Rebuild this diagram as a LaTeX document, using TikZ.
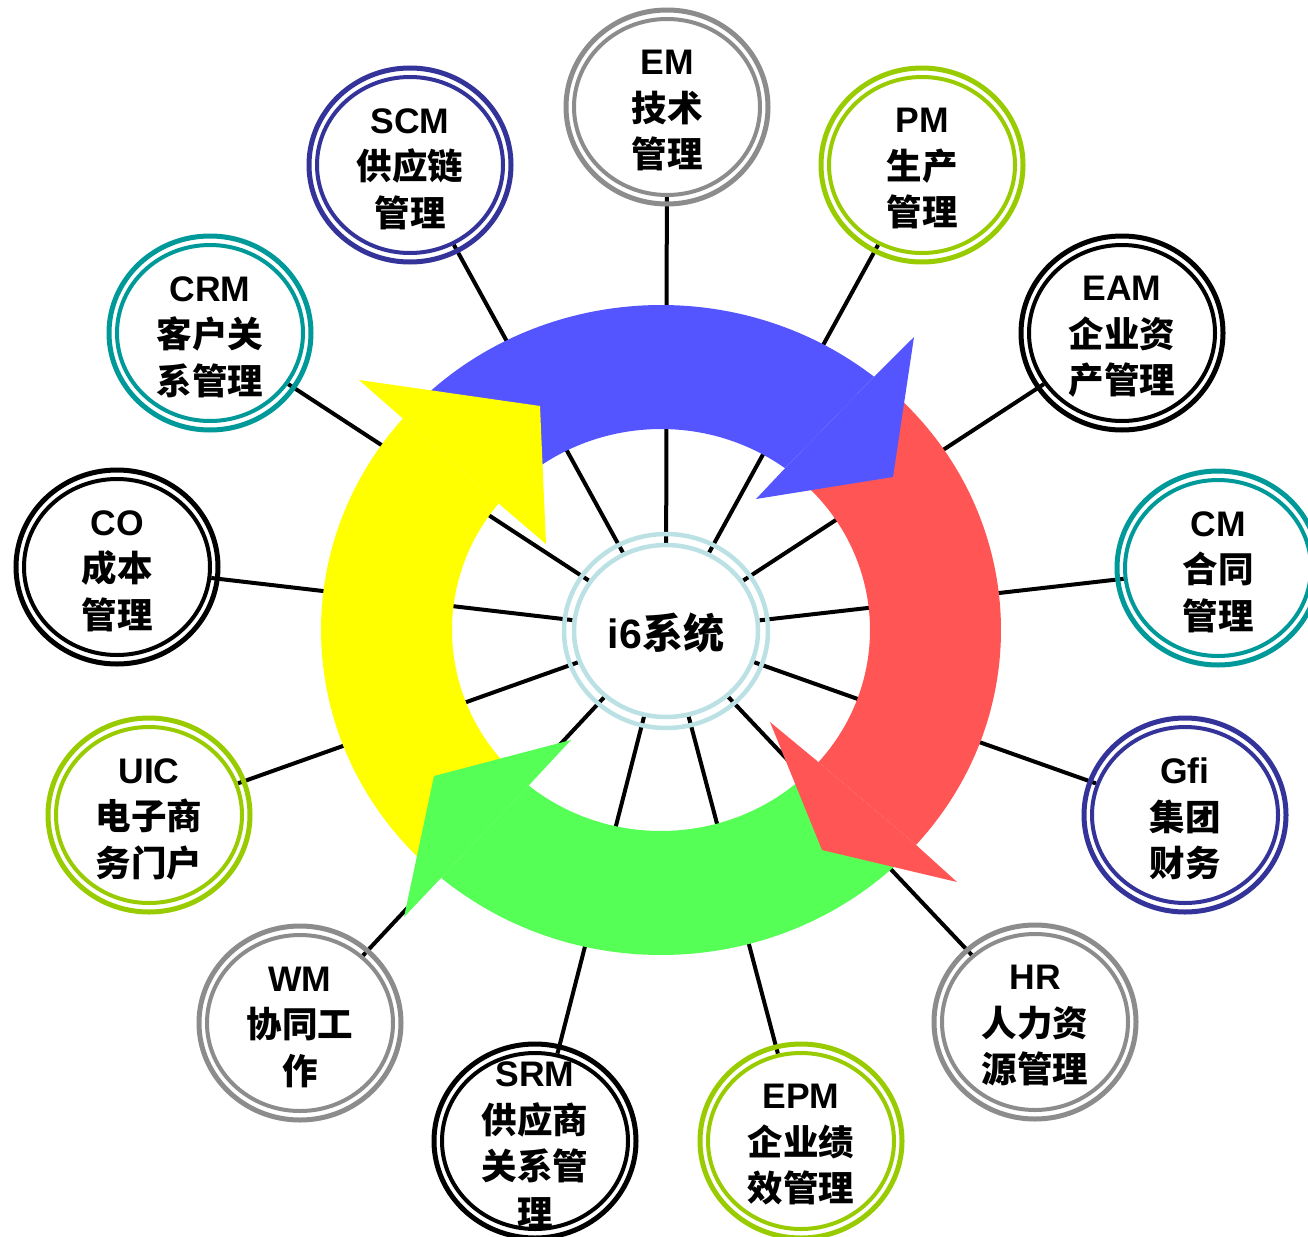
\documentclass[tikz,border=0pt]{standalone}
\usepackage{fontspec}
\setmainfont{Liberation Sans}
\newfontfamily\cjk{Noto Sans CJK SC}
\usetikzlibrary{shapes.geometric,calc}
\pgfdeclarelayer{spokelayer}
\pgfdeclarelayer{arrowlayer}
\pgfsetlayers{spokelayer,arrowlayer,main}
\definecolor{ringgray}{HTML}{8C8C8C}
\definecolor{ringlime}{HTML}{99CC00}
\definecolor{ringteal}{HTML}{009999}
\definecolor{ringnavy}{HTML}{333399}
\definecolor{ringblack}{HTML}{000000}
\definecolor{cring}{HTML}{BCE1E5}
\definecolor{arrblue}{HTML}{5555FF}
\definecolor{arrred}{HTML}{FF5555}
\definecolor{arrgreen}{HTML}{55FF55}
\definecolor{arryellow}{HTML}{FFFF00}
\newcommand\zh[1]{{\cjk #1}}
\newcommand\modnode[4]{%
  \node[inring, draw=#3] (#1) at (#2) {};
  \draw[outring, draw=#3] (#1.center) ellipse[x radius=101, y radius=97];
  \node[txt] (t#1) at ($(#1.center)+(0,4)$) {#4};
}
\begin{document}
\begin{tikzpicture}[x=1pt, y=-1pt,
  inring/.style={ellipse, line width=4pt, fill=white, minimum width=186pt, minimum height=176pt, inner sep=0pt},
  outring/.style={line width=5pt},
  txt/.style={align=center, inner sep=0pt, font=\fontsize{35.5}{46.5}\selectfont\bfseries},
  spoke/.style={line width=4pt, draw=black},
  outr/.style={x radius=340, y radius=325},
  inr/.style={x radius=209, y radius=201}]
\useasboundingbox (0,0) rectangle (1308,1236);
\begin{pgfonlayer}{spokelayer}
  \fill[white] (0,0) rectangle (1308,1236);
\end{pgfonlayer}
\coordinate (A) at (661,630);

% centre
\node[ellipse, draw=cring, line width=4.5pt, fill=white, minimum width=184pt, minimum height=172pt, inner sep=0pt] (ctr) at (666,631) {};
\draw[cring, line width=4.5pt] (ctr.center) ellipse[x radius=102, y radius=97];
\node[font=\fontsize{41}{48}\selectfont\bfseries, inner sep=0pt] (tctr) at ($(ctr.center)+(0,2)$) {i6\zh{系统}};

% modules
\modnode{EM}{667,107}{ringgray}{EM\\\zh{技术}\\\zh{管理}}
\modnode{PM}{922,165}{ringlime}{PM\\\zh{生产}\\\zh{管理}}
\modnode{EAM}{1122,333}{ringblack}{EAM\\\zh{企业资}\\\zh{产管理}}
\modnode{CM}{1218,568}{ringteal}{CM\\\zh{合同}\\\zh{管理}}
\modnode{Gfi}{1185,815}{ringnavy}{Gfi\\\zh{集团}\\\zh{财务}}
\modnode{HR}{1035,1022}{ringgray}{HR\\\zh{人力资}\\\zh{源管理}}
\modnode{EPM}{801,1141}{ringlime}{EPM\\\zh{企业绩}\\\zh{效管理}}
\modnode{SRM}{535,1141}{ringblack}{SRM\\\zh{供应商}\\\zh{关系管}\\\zh{理}}
\modnode{WM}{300,1023}{ringgray}{WM\\\zh{协同工}\\\zh{作}}
\modnode{UIC}{149,815}{ringlime}{UIC\\\zh{电子商}\\\zh{务门户}}
\modnode{CO}{117,567}{ringblack}{CO\\\zh{成本}\\\zh{管理}}
\modnode{CRM}{210,333}{ringteal}{CRM\\\zh{客户关}\\\zh{系管理}}
\modnode{SCM}{410,165}{ringnavy}{SCM\\\zh{供应链}\\\zh{管理}}

% spokes
\begin{pgfonlayer}{spokelayer}
  \foreach \m in {EM,PM,EAM,CM,Gfi,HR,EPM,SRM,WM,UIC,CO,CRM,SCM}
    \draw[spoke] (ctr) -- (\m);
\end{pgfonlayer}

% cycle arrows
\begin{pgfonlayer}{arrowlayer}
  % bodies
  \fill[arrblue] ($(A)+(-138:340 and 325)$) arc[start angle=-138, end angle=-51.2, outr]
    -- ($(A)+(-53.6:209 and 201)$) arc[start angle=-53.6, end angle=-138, inr] -- cycle;
  \fill[arrred] ($(A)+(-47:340 and 325)$) arc[start angle=-47, end angle=41.4, outr]
    -- ($(A)+(41.1:209 and 201)$) arc[start angle=41.1, end angle=-47, inr] -- cycle;
  \fill[arrgreen] ($(A)+(44:340 and 325)$) arc[start angle=44, end angle=130.3, outr]
    -- ($(A)+(129.3:209 and 201)$) arc[start angle=129.3, end angle=44, inr] -- cycle;
  \fill[arryellow] ($(A)+(133:340 and 325)$) arc[start angle=133, end angle=220.6, outr]
    -- ($(A)+(219:209 and 201)$) arc[start angle=219, end angle=133, inr] -- cycle;
  % heads
  \fill[arrblue] ($(A)+(-51.2:340 and 325)$) -- (914,337) -- (893,477) -- (756,499)
    -- ($(A)+(-53.6:209 and 201)$) -- cycle;
  \fill[arrred] ($(A)+(41.4:340 and 325)$) -- (957,882) -- (822,850) -- (770,722)
    -- ($(A)+(41.1:209 and 201)$) -- cycle;
  \fill[arrgreen] ($(A)+(130.3:340 and 325)$) -- (404,917) -- (434,776) -- (571,740)
    -- ($(A)+(129.3:209 and 201)$) -- cycle;
  \fill[arryellow] ($(A)+(220.6:340 and 325)$) -- (359,380) -- (540,406) -- (546,544)
    -- ($(A)+(219:209 and 201)$) -- cycle;
\end{pgfonlayer}
\end{tikzpicture}
\end{document}
